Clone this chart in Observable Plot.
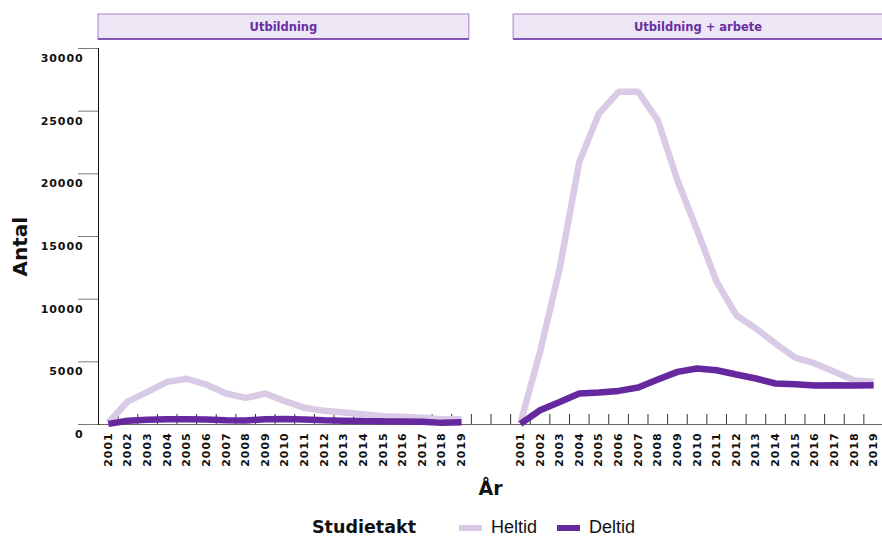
<!DOCTYPE html>
<html><head><meta charset="utf-8">
<script src="https://cdn.jsdelivr.net/npm/d3@7"></script>
<script src="https://cdn.jsdelivr.net/npm/@observablehq/plot@0.6"></script>
<style>
html,body{margin:0;padding:0;background:#fff;overflow:hidden;width:882px;height:538px}
#legend{position:absolute;left:0;top:517px;display:flex;align-items:center;height:21px;padding-left:312px;font-family:"Liberation Sans",Arial,sans-serif;color:#111;line-height:21px}
#legend span{white-space:nowrap}
#legend .title{font-family:"DejaVu Sans",sans-serif;font-weight:bold;font-size:17.5px;margin-right:43px}
#legend .sw{width:23px;height:6px;margin-right:9px}
#legend .lab{font-size:18px;margin-right:20px}
g[aria-label="x-axis tick label"] text, g[aria-label="y-axis tick label"] text{letter-spacing:0.9px}
</style></head><body>
<div id="chart"></div>
<div id="legend"></div>
<script>
const years = [2001,2002,2003,2004,2005,2006,2007,2008,2009,2010,2011,2012,2013,2014,2015,2016,2017,2018,2019];
const facets = ["Utbildning", "Utbildning + arbete"];
const series = ["Heltid", "Deltid"];
const colors = ["#d9cae6", "#65289f"];
const yTicks = [0, 5000, 10000, 15000, 20000, 25000, 30000];

const utbHeltid = [150, 1850, 2600, 3400, 3650, 3190, 2470, 2120, 2470, 1860, 1330, 1090, 960, 820, 660, 610, 530, 420, 420];
const utbDeltid = [50, 300, 380, 420, 420, 400, 330, 320, 420, 430, 400, 330, 300, 270, 250, 240, 220, 130, 170];
const arbHeltid = [100, 5790, 12450, 20950, 24810, 26540, 26540, 24280, 19490, 15500, 11380, 8720, 7660, 6460, 5340, 4870, 4200, 3530, 3400];
const arbDeltid = [50, 1140, 1800, 2470, 2550, 2680, 2950, 3590, 4200, 4470, 4330, 3990, 3670, 3270, 3220, 3110, 3140, 3110, 3140];

// layout of slots along the shared x axis: each facet gets one slot per year, with a gap of 2 slots between facets
const gapSlots = 2;
const slotOffset = facets.map((f, i) => i * (years.length + gapSlots));
const lastSlot = slotOffset[slotOffset.length - 1] + years.length - 1;

const table = [[utbHeltid, utbDeltid], [arbHeltid, arbDeltid]];
const rows = [];
table.forEach((pair, fi) => pair.forEach((vals, si) => vals.forEach((v, yi) =>
  rows.push({facet: facets[fi], serie: series[si], year: years[yi], slot: slotOffset[fi] + yi, value: v}))));

const slotYear = new Map();
facets.forEach((f, fi) => years.forEach((y, yi) => slotYear.set(slotOffset[fi] + yi, String(y))));
const labelSlots = [...slotYear.keys()];
const tickSlots = d3.range(0, lastSlot).map(s => s + 0.5);

function strips(index, scales, values, dims) {
  const g = d3.create("svg:g");
  const top = dims.marginTop - 34, h = 25;
  facets.forEach((f, i) => {
    const x1 = scales.x(slotOffset[i] - 0.5) + (i ? 3 : 0);
    const x2 = scales.x(slotOffset[i] + years.length - 0.5) - (i ? 0 : 2);
    g.append("rect").attr("x", x1).attr("y", top).attr("width", x2 - x1).attr("height", h)
      .attr("fill", "#ede7f5").attr("stroke", "#a283cf").attr("stroke-width", 1);
    g.append("line").attr("x1", x1).attr("x2", x2).attr("y1", top + h).attr("y2", top + h)
      .attr("stroke", "#6a34a6").attr("stroke-width", 1.5);
    g.append("text").attr("x", (x1 + x2) / 2).attr("y", top + h / 2).attr("dy", "0.35em")
      .attr("text-anchor", "middle").attr("fill", "#6a2ea0")
      .attr("font-weight", "bold").attr("font-size", 11.5).text(f);
  });
  return g.node();
}

const chart = Plot.plot({
  width: 882,
  height: 510,
  marginTop: 48,
  marginBottom: 86,
  marginLeft: 98,
  marginRight: 0,
  style: {fontFamily: "DejaVu Sans, sans-serif", fontSize: "11px", color: "#111", background: "#fff"},
  x: {type: "linear", domain: [-0.5, lastSlot + 0.45], label: null, axis: null},
  y: {domain: [0, 30000], label: null, axis: null},
  color: {domain: series, range: colors},
  marks: [
    Plot.axisY({ticks: yTicks, tickSize: 20, text: null, stroke: "#7a7a7a", label: null}),
    Plot.axisY({ticks: yTicks, tickSize: 0, tickPadding: 15, dy: 10, tickFormat: d3.format("d"),
      fontWeight: "bold", fontSize: 11, fill: "#111", label: null}),
    Plot.frame({anchor: "bottom", stroke: "#666"}),
    Plot.frame({anchor: "left", stroke: "#111"}),
    Plot.axisX({ticks: tickSlots, tickSize: 10, dy: -10, text: null, stroke: "#333", label: null}),
    Plot.axisX({ticks: labelSlots, tickSize: 0, tickPadding: 8, tickRotate: -90, textAnchor: "end", lineAnchor: "middle",
      tickFormat: s => slotYear.get(s), fontWeight: "bold", fontSize: 11, fill: "#111", label: null}),
    Plot.line(rows, {x: "slot", y: "value", z: d => d.facet + "|" + d.serie, stroke: "serie",
      strokeWidth: 6.5, strokeLinecap: "butt", strokeLinejoin: "miter"}),
    Plot.text(["År"], {text: d => d, frameAnchor: "bottom", dy: 70, fontSize: 19, fontWeight: "bold", fill: "#111"}),
    Plot.text(["Antal"], {text: d => d, frameAnchor: "left", dx: -78, dy: 40, rotate: -90, fontSize: 20, fontWeight: "bold", fill: "#111"}),
    strips
  ]
});
document.getElementById("chart").appendChild(chart);

const legend = d3.select("#legend");
legend.append("span").attr("class", "title").text("Studietakt");
series.forEach((s, i) => {
  legend.append("span").attr("class", "sw").style("background", colors[i]);
  legend.append("span").attr("class", "lab").text(s);
});
</script>
</body></html>
